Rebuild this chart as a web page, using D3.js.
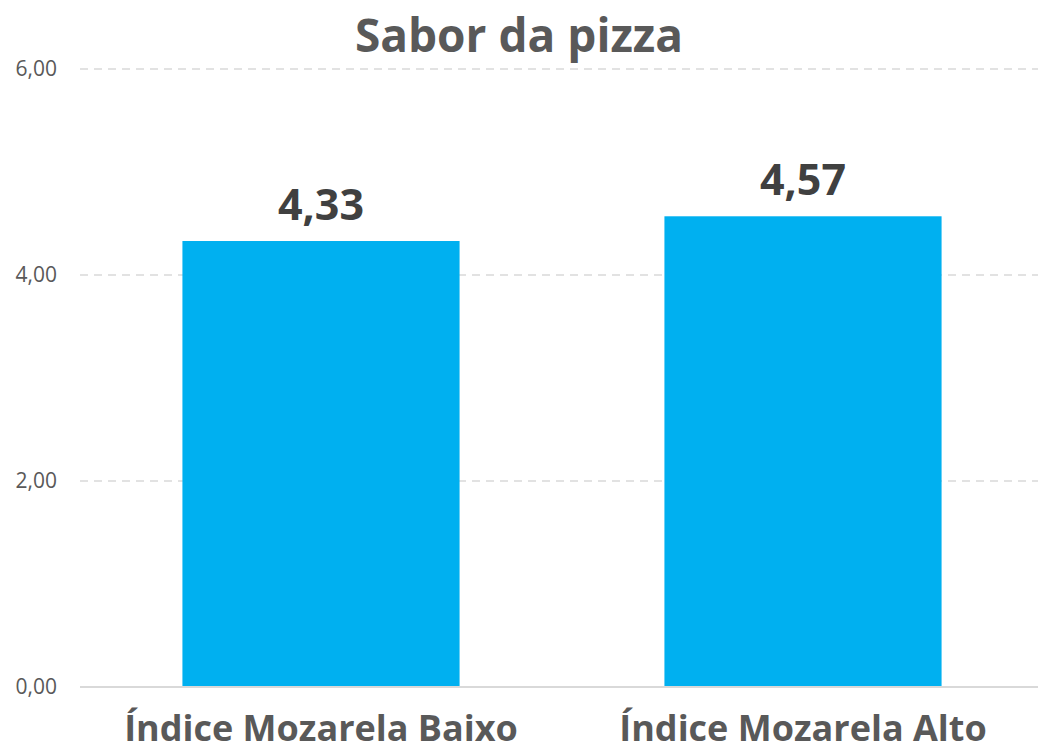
<!DOCTYPE html>
<html>
<head>
<meta charset="utf-8">
<script src="https://cdn.jsdelivr.net/npm/d3@7"></script>
<style>
    body { margin: 0; background: #fff; }
    svg { display: block; font-family: "Open Sans", "Noto Sans", sans-serif; }
</style>
</head>
<body>
<div id="chart"></div>
<script>
// chart data
const categories = ["Índice Mozarela Baixo", "Índice Mozarela Alto"];
const values = [4.33, 4.57];
const yTicks = [0, 2, 4, 6];
const chartTitle = "Sabor da pizza";

const fmt = v => v.toFixed(2).replace(".", ",");

const svg = d3.select("#chart").append("svg")
    .attr("width", 1038)
    .attr("height", 754);

const margin = { top: 69, right: 0, bottom: 67, left: 80 };
const width = 1038 - margin.left - margin.right;
const height = 754 - margin.top - margin.bottom;

const g = svg.append("g").attr("transform", `translate(${margin.left},${margin.top})`);

const x = d3.scaleBand()
    .domain(categories)
    .range([0, 964])
    .paddingInner(0.425)
    .paddingOuter(0.2125);

const y = d3.scaleLinear()
    .domain([0, 6])
    .range([height, 0]);

// gridlines
g.selectAll(".grid")
    .data(yTicks.filter(d => d > 0))
    .enter().append("line")
    .attr("class", "grid")
    .attr("x1", 0)
    .attr("x2", width)
    .attr("y1", d => y(d))
    .attr("y2", d => y(d))
    .attr("stroke", "#d9d9d9")
    .attr("stroke-width", 1.5)
    .attr("stroke-dasharray", "8,6");

// y tick labels
g.selectAll(".ytick")
    .data(yTicks)
    .enter().append("text")
    .attr("class", "ytick")
    .attr("x", -23)
    .attr("y", d => y(d))
    .attr("dy", "0.35em")
    .attr("text-anchor", "end")
    .attr("fill", "#595959")
    .style("font-size", "21px")
    .text(fmt);

// bars
g.selectAll("rect")
    .data(values)
    .enter().append("rect")
    .attr("x", (d, i) => x(categories[i]))
    .attr("y", d => y(d))
    .attr("width", x.bandwidth())
    .attr("height", d => height - y(d))
    .attr("fill", "#00b0f0");

// baseline
g.append("line")
    .attr("x1", 0)
    .attr("x2", width)
    .attr("y1", y(0))
    .attr("y2", y(0))
    .attr("stroke", "#d9d9d9")
    .attr("stroke-width", 2);

// value labels
g.selectAll(".val")
    .data(values)
    .enter().append("text")
    .attr("class", "val")
    .attr("x", (d, i) => x(categories[i]) + x.bandwidth() / 2)
    .attr("y", d => y(d) - 21)
    .attr("text-anchor", "middle")
    .attr("fill", "#404040")
    .style("font-size", "43px")
    .style("font-weight", "bold")
    .text(fmt);

// category labels
g.selectAll(".cat")
    .data(categories)
    .enter().append("text")
    .attr("class", "cat")
    .attr("x", d => x(d) + x.bandwidth() / 2)
    .attr("y", height + 54)
    .attr("text-anchor", "middle")
    .attr("fill", "#595959")
    .style("font-size", "36px")
    .style("font-weight", "bold")
    .text(d => d);

// title
svg.append("text")
    .attr("x", 519)
    .attr("y", 52)
    .attr("text-anchor", "middle")
    .attr("fill", "#595959")
    .style("font-size", "46px")
    .style("font-weight", "bold")
    .text(chartTitle);
</script>
</body>
</html>
